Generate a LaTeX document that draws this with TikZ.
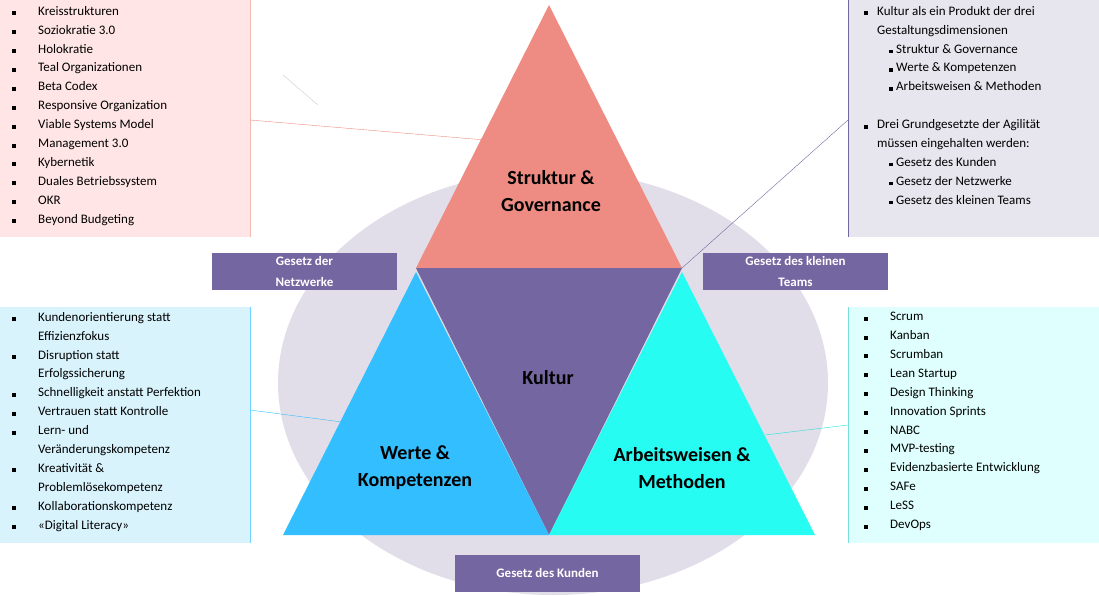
\documentclass[tikz,border=0pt]{standalone}
\usepackage{fontspec}
\setmainfont{Carlito}
\usetikzlibrary{positioning}
\definecolor{rosa}{HTML}{EE8B82}
\definecolor{lila}{HTML}{7466A0}
\definecolor{blau}{HTML}{33BFFF}
\definecolor{tuerkis}{HTML}{26FCF2}
\definecolor{oval}{HTML}{E1DEE9}
\newcommand{\sq}{\makebox[26pt][l]{\rule{4pt}{4pt}}}
\newcommand{\sqs}{\makebox[7pt][l]{\rule{3.5pt}{3.5pt}}}
\newcommand{\ind}{\hspace*{26pt}}
\tikzset{
  liste/.style={anchor=north west, inner sep=0pt, align=left, font=\fontsize{13}{18.9}\selectfont},
  gesetz/.style={fill=lila, text=white, font=\bfseries\fontsize{13}{21}\selectfont, minimum width=185pt, minimum height=37pt, inner sep=0pt, align=center, text depth=0pt},
  titel/.style={font=\bfseries\fontsize{20}{27}\selectfont, align=center}
}
\begin{document}
\begin{tikzpicture}[x=1pt, y=-1pt]
\useasboundingbox (0,0) rectangle (1099,595);
% background boxes
\fill[fill=pink!40] (0,0) rectangle (250,237);
\fill[fill=oval!80] (848,0) rectangle (1099,237);
\fill[fill=cyan!15] (0,307) rectangle (250,543);
\fill[fill=tuerkis!15] (848,307) rectangle (1099,543);
\draw[rosa!60] (250,0) -- (250,237);
\draw[lila] (848,0) -- (848,237);
\draw[blau!70] (250,307) -- (250,543);
\draw[tuerkis!80!black!60] (848,307) -- (848,543);
\draw[gray!40] (283,75) -- (318,105);
% ellipse and triangles
\fill[oval] (553,383) ellipse (275pt and 212pt);
\coordinate (top) at (549,5);
\coordinate (bl) at (416,268);
\coordinate (br) at (682,268);
\coordinate (bot) at (549,535);
\fill[rosa] (top) -- (br) -- (bl) -- cycle;
\fill[lila] (bl) -- (br) -- (bot) -- cycle;
\fill[blau] (416,272) -- (549,535) -- (283,535) -- cycle;
\fill[tuerkis] (682,272) -- (815,535) -- (549,535) -- cycle;
% titles
\node[titel] (struktur) at (551,191) {Struktur \&\\Governance};
\node[titel] (kultur) at (548,378) {Kultur};
\node[titel] (werte) at (415,468) {Werte \&\\Kompetenzen};
\node[titel] (arbeit) at (682,468) {Arbeitsweisen \&\\Methoden};
% laws
\node[gesetz] (netz) at (304.5,271.5) {Gesetz der\\Netzwerke};
\node[gesetz] (teams) at (795.5,271.5) {Gesetz des kleinen\\Teams};
\node[gesetz, text depth=2pt] (kunden) at (547.5,573.5) {Gesetz des Kunden};
% lists
\node[liste] (strukliste) at (12,6) {\sq Kreisstrukturen\\\sq Soziokratie 3.0\\\sq Holokratie\\\sq Teal Organizationen\\\sq Beta Codex\\\sq Responsive Organization\\\sq Viable Systems Model\\\sq Management 3.0\\\sq Kybernetik\\\sq Duales Betriebssystem\\\sq OKR\\\sq Beyond Budgeting};
\node[liste] (kulturliste) at (864,6) {\makebox[13pt][l]{\rule{4pt}{4pt}}Kultur als ein Produkt der drei\\\hspace*{13pt}Gestaltungsdimensionen\\\hspace*{25pt}\sqs Struktur \& Governance\\\hspace*{25pt}\sqs Werte \& Kompetenzen\\\hspace*{25pt}\sqs Arbeitsweisen \& Methoden\\[18.9pt]\makebox[13pt][l]{\rule{4pt}{4pt}}Drei Grundgesetzte der Agilität\\\hspace*{13pt}müssen eingehalten werden:\\\hspace*{25pt}\sqs Gesetz des Kunden\\\hspace*{25pt}\sqs Gesetz der Netzwerke\\\hspace*{25pt}\sqs Gesetz des kleinen Teams};
\node[liste] (werteliste) at (12,312) {\sq Kundenorientierung statt\\\ind Effizienzfokus\\\sq Disruption statt\\\ind Erfolgssicherung\\\sq Schnelligkeit anstatt Perfektion\\\sq Vertrauen statt Kontrolle\\\sq Lern- und\\\ind Veränderungskompetenz\\\sq Kreativität \&\\\ind Problemlösekompetenz\\\sq Kollaborationskompetenz\\\sq «Digital Literacy»};
\node[liste] (methodenliste) at (864,312) {\sq Scrum\\\sq Kanban\\\sq Scrumban\\\sq Lean Startup\\\sq Design Thinking\\\sq Innovation Sprints\\\sq NABC\\\sq MVP-testing\\\sq Evidenzbasierte Entwicklung\\\sq SAFe\\\sq LeSS\\\sq DevOps};
% leader lines
\draw[rosa] (250,120) -- (485,140);
\draw[lila] (848,120) -- (br);
\draw[blau] (250,410) -- (365,425);
\draw[tuerkis!90!black] (848,425) -- (765,435);
\end{tikzpicture}
\end{document}
